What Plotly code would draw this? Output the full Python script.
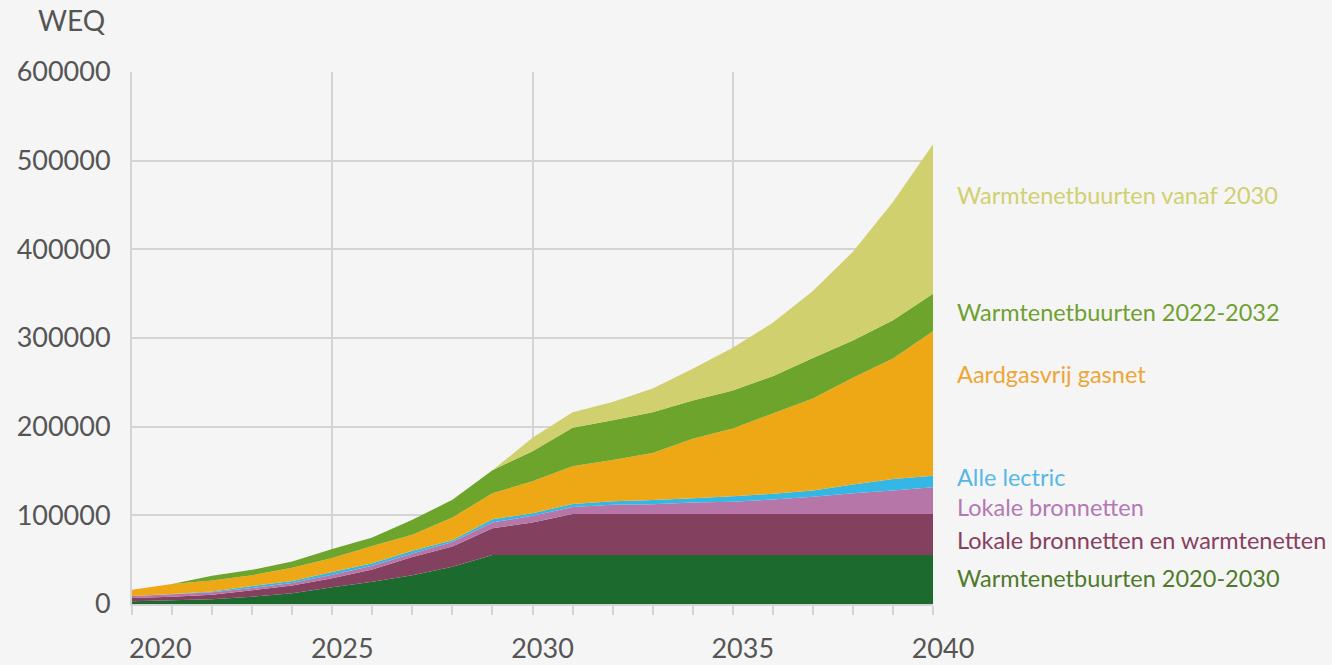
import plotly.graph_objects as go

years = list(range(2020, 2041))

# WEQ per categorie (duizenden), gestapeld van onder naar boven
warmtenet_2020_2030 = [3, 4.2, 5.3, 8.3, 12, 19, 25, 32.4, 42, 55.4, 55.4,
                       55.4, 55.4, 55.4, 55.4, 55.4, 55.4, 55.4, 55.4, 55.4, 55.4]
lokale_bron_warmtenet = [3.8, 4.1, 5.2, 7.2, 9, 10, 14, 20.6, 22.8, 30, 36.5,
                         46, 46, 46, 46, 46, 46, 46, 46, 46, 46]
lokale_bronnetten = [2.2, 2.7, 2.7, 2.5, 2.8, 4, 4, 4, 5.2, 6.5, 7.5,
                     8, 10.5, 11, 13, 14, 16.5, 19.5, 23.5, 26.5, 30.3]
alle_electric = [0, 0.3, 0.8, 2.4, 2.2, 3, 3, 3, 2, 3.7, 3,
                 3.5, 4, 5, 5, 6, 6.5, 7, 10, 13, 13]
aardgasvrij_gasnet = [7, 11.3, 12.4, 12.1, 15, 16, 19.5, 18, 25.5, 29.3, 36,
                      42.5, 46.4, 53, 67, 76.5, 90.5, 104, 120.4, 136, 163]
warmtenet_2022_2032 = [0, 0, 5.6, 6, 7, 10, 9.5, 17, 20, 26, 34,
                       43.5, 45, 46, 43, 43, 42, 45.6, 42, 43, 42.3]
warmtenet_vanaf_2030 = [0, 0, 0, 0, 0, 0, 0, 0, 0, 0, 15,
                        17.5, 20.5, 26.7, 36, 48, 60.4, 75.4, 100, 133.6, 168.6]

series = [
    ("Warmtenetbuurten 2020-2030", warmtenet_2020_2030, "#1d6a2e", "#4f7a2a"),
    ("Lokale bronnetten en warmtenetten", lokale_bron_warmtenet, "#84405f", "#87405f"),
    ("Lokale bronnetten", lokale_bronnetten, "#b676a8", "#b478b4"),
    ("Alle lectric", alle_electric, "#35b7e5", "#55b8e6"),
    ("Aardgasvrij gasnet", aardgasvrij_gasnet, "#efa815", "#eea535"),
    ("Warmtenetbuurten 2022-2032", warmtenet_2022_2032, "#6da42c", "#70a030"),
    ("Warmtenetbuurten vanaf 2030", warmtenet_vanaf_2030, "#d0d06e", "#d0d070"),
]
label_y = [29000, 72000, 109000, 143000, 259000, 329000, 461000]

fig = go.Figure()
for name, vals, fill, _ in series:
    fig.add_trace(go.Scatter(
        x=years, y=[v * 1000 for v in vals], name=name,
        mode="none", stackgroup="one", fill="tonexty", fillcolor=fill,
        line=dict(width=0),
    ))

annotations = []
for (name, _, _, tcol), ly in zip(series, label_y):
    annotations.append(dict(
        text=name, x=1.0275, xref="paper", y=ly, yref="y",
        xanchor="left", yanchor="middle", showarrow=False,
        font=dict(size=23.5, color=tcol),
    ))
annotations.append(dict(
    text="WEQ", x=-0.03, xref="paper", y=1.098, yref="paper",
    xanchor="right", yanchor="middle", showarrow=False,
    font=dict(size=28, color="#555555"),
))
annotations.append(dict(
    text="2020", x=2020, xref="x", y=0, yref="y", xshift=28, yshift=-43,
    xanchor="center", yanchor="middle", showarrow=False,
    font=dict(size=27, color="#555555"),
))

fig.update_layout(
    width=1332, height=665,
    margin=dict(l=132, r=399, t=72, b=61),
    paper_bgcolor="#f5f5f5", plot_bgcolor="#f5f5f5",
    font=dict(family="Lato, sans-serif", color="#555555", size=27),
    showlegend=False,
    annotations=annotations,
)
fig.update_xaxes(
    range=[2020, 2040], tickvals=[2025, 2030, 2035, 2040],
    showgrid=True, gridcolor="#d4d4d4", gridwidth=2,
    showline=True, linecolor="#d4d4d4", linewidth=2,
    ticks="outside", ticklen=9, tickcolor="#d4d4d4", tickwidth=2,
    ticklabelshift=10, ticklabelstandoff=11, automargin=False,
    minor=dict(dtick=1, ticks="outside", ticklen=9, tickcolor="#d4d4d4", tickwidth=2, showgrid=False),
    zeroline=False, tickfont=dict(size=27),
)
fig.update_yaxes(
    range=[0, 600000], tickvals=[0, 100000, 200000, 300000, 400000, 500000, 600000],
    ticktext=["0", "100000", "200000", "300000", "400000", "500000", "600000"],
    showgrid=True, gridcolor="#d4d4d4", gridwidth=2,
    showline=True, linecolor="#d4d4d4", linewidth=2,
    ticklabelstandoff=14, automargin=False, zeroline=False, tickfont=dict(size=27),
)

fig.write_html(
    "out.html",
    config={"displayModeBar": False},
    post_script="document.body.style.margin='0';document.body.style.background='#f5f5f5';",
)
